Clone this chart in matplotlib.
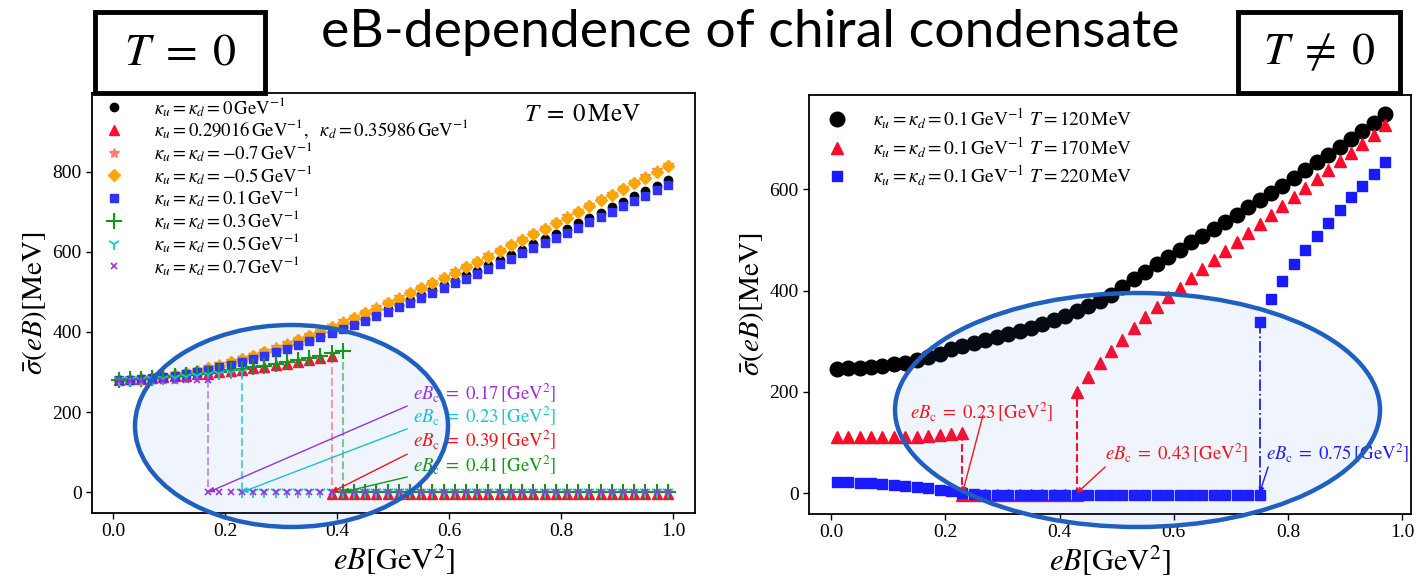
import numpy as np
import matplotlib
matplotlib.use("Agg")
import matplotlib.pyplot as plt
from matplotlib.patches import Ellipse, Rectangle

plt.rcParams["font.family"] = ["Liberation Serif", "DejaVu Serif"]
plt.rcParams["mathtext.fontset"] = "stix"

# ---------------- T = 0 panel ----------------
eb_left = [round(0.01 + 0.02 * i, 2) for i in range(50)]

sig_k0 = [280, 281, 282, 285, 288, 291, 296, 301, 307, 313, 320, 327, 335, 343, 352,
          361, 370, 380, 390, 400, 411, 422, 433, 444, 456, 468, 479, 491, 504, 516,
          528, 541, 553, 566, 579, 592, 605, 618, 631, 644, 657, 671, 684, 697, 711,
          724, 738, 752, 765, 779]
sig_km05 = [280, 281, 283, 285, 288, 293, 297, 303, 309, 316, 324, 332, 340, 349, 358,
            368, 379, 389, 400, 411, 423, 434, 446, 458, 471, 483, 496, 509, 522, 535,
            548, 561, 575, 588, 602, 616, 629, 643, 657, 671, 685, 699, 713, 728, 742,
            756, 771, 785, 800, 814]
sig_km07 = [v + 3 for v in sig_km05]
sig_k01 = [280, 281, 282, 284, 287, 291, 295, 300, 306, 312, 318, 325, 333, 341, 349,
           358, 367, 377, 386, 397, 407, 417, 428, 439, 450, 462, 473, 485, 497, 509,
           521, 533, 545, 558, 570, 583, 596, 608, 621, 634, 647, 660, 673, 686, 699,
           713, 726, 739, 753, 766]

eb_red_up = eb_left[:20]
sig_red_up = [280, 282, 283, 285, 287, 289, 291, 294, 296, 299, 302, 306, 309, 313,
              317, 321, 326, 331, 336, 341]
eb_red_dn = eb_left[19:]
sig_red_dn = [-5] * len(eb_red_dn)

eb_k03_up = eb_left[:21]
sig_k03_up = [281, 282, 283, 285, 287, 290, 292, 295, 298, 301, 304, 308, 312, 316,
              320, 325, 330, 335, 340, 346, 351]
eb_k03_dn = eb_left[20:]
sig_k03_dn = [0] * len(eb_k03_dn)

eb_k05_up = eb_left[:12]
sig_k05_up = [280, 280, 281, 282, 283, 285, 287, 289, 292, 294, 298, 301]
eb_k05_dn = eb_left[11:]
sig_k05_dn = [0] * len(eb_k05_dn)

eb_k07_up = eb_left[:9]
sig_k07_up = [277, 277, 277.5, 278, 278, 278.5, 279, 279.5, 280]
eb_k07_dn = eb_left[8:]
sig_k07_dn = [0] * len(eb_k07_dn)

labels_left = [
    r"$\kappa_u=\kappa_d=0\,\mathrm{GeV}^{-1}$",
    r"$\kappa_u=0.29016\,\mathrm{GeV}^{-1},\ \ \kappa_d=0.35986\,\mathrm{GeV}^{-1}$",
    r"$\kappa_u=\kappa_d=-0.7\,\mathrm{GeV}^{-1}$",
    r"$\kappa_u=\kappa_d=-0.5\,\mathrm{GeV}^{-1}$",
    r"$\kappa_u=\kappa_d=0.1\,\mathrm{GeV}^{-1}$",
    r"$\kappa_u=\kappa_d=0.3\,\mathrm{GeV}^{-1}$",
    r"$\kappa_u=\kappa_d=0.5\,\mathrm{GeV}^{-1}$",
    r"$\kappa_u=\kappa_d=0.7\,\mathrm{GeV}^{-1}$",
]
crit_left = [0.17, 0.23, 0.39, 0.41]

# ---------------- T != 0 panel ----------------
eb_right = [round(0.01 + 0.02 * i, 2) for i in range(49)]
sig_t120 = [246, 247, 248, 250, 252, 255, 258, 262, 268, 275, 284, 290, 296, 302, 308,
            314, 320, 327, 334, 342, 350, 359, 369, 380, 392, 407, 422, 437, 452, 467,
            481, 495, 508, 521, 535, 549, 564, 578, 593, 607, 622, 638, 653, 668, 684,
            699, 715, 731, 748]

eb_t170_lo = eb_right[:12]
sig_t170_lo = [110, 110, 110, 110, 110, 111, 111, 111, 112, 114, 116, 119]
eb_t170_mid = eb_right[11:22]
sig_t170_mid = [-3] * len(eb_t170_mid)
eb_t170_hi = eb_right[21:]
sig_t170_hi = [200, 230, 258, 281, 303, 326, 347, 367, 387, 406, 425, 443, 461, 479,
               496, 514, 532, 550, 567, 585, 603, 620, 638, 655, 672, 690, 708, 726]

eb_t220_lo = eb_right[:38]
sig_t220_lo = [22, 22, 21, 20, 19, 17, 15, 13, 10, 7, 4, 1, -2, -3, -3, -3, -3, -3, -3,
               -3, -3, -3, -3, -3, -3, -3, -3, -3, -3, -3, -3, -3, -3, -3, -3, -3, -3, -3]
eb_t220_hi = eb_right[37:]
sig_t220_hi = [337, 383, 419, 452, 480, 507, 534, 559, 584, 607, 630, 653]

labels_right = [
    r"$\kappa_u=\kappa_d=0.1\,\mathrm{GeV}^{-1}\ T=120\,\mathrm{MeV}$",
    r"$\kappa_u=\kappa_d=0.1\,\mathrm{GeV}^{-1}\ T=170\,\mathrm{MeV}$",
    r"$\kappa_u=\kappa_d=0.1\,\mathrm{GeV}^{-1}\ T=220\,\mathrm{MeV}$",
]
crit_right = [0.23, 0.43, 0.75]

W, H = 1419, 582
fig = plt.figure(figsize=(W / 100, H / 100), dpi=100)


def frac_box(x0, y0, x1, y1):
    return [x0 / W, 1 - y1 / H, (x1 - x0) / W, (y1 - y0) / H]


def note(xc):
    return r"$eB_{\rm c}\;=\;%.2f\,[\mathrm{GeV}^2]$" % xc


axL = fig.add_axes(frac_box(92, 93, 695, 513))
axR = fig.add_axes(frac_box(809, 95, 1411, 514))

# left panel series
purple = "#9b30e0"
cyan = "#17c8d0"
green = "#119a11"
axL.plot(eb_left, sig_k0, "o", color="black", ms=6, label=labels_left[0], zorder=3)
axL.plot(eb_red_up, sig_red_up, "^", color="#ff1030", ms=7, label=labels_left[1], zorder=3)
axL.plot(eb_red_dn, sig_red_dn, "^", color="#ff1030", ms=7, zorder=3)
axL.plot(eb_left, sig_km07, "*", color="#f88070", ms=7, label=labels_left[2], zorder=3)
axL.plot(eb_left, sig_km05, "D", color="#ffa500", ms=6, label=labels_left[3], zorder=3)
axL.plot(eb_left, sig_k01, "s", color="#3030ff", ms=6, label=labels_left[4], zorder=3)
axL.plot(eb_k03_up, sig_k03_up, "+", color=green, ms=11, mew=1.5, label=labels_left[5], zorder=3)
axL.plot(eb_k03_dn, sig_k03_dn, "+", color=green, ms=11, mew=1.5, zorder=3)
axL.plot(eb_k05_up, sig_k05_up, "1", color=cyan, ms=9, mew=1.3, label=labels_left[6], zorder=3)
axL.plot(eb_k05_dn, sig_k05_dn, "1", color=cyan, ms=9, mew=1.3, zorder=3)
axL.plot(eb_k07_up, sig_k07_up, "x", color=purple, ms=5, mew=1.2, label=labels_left[7], zorder=3)
axL.plot(eb_k07_dn, sig_k07_dn, "x", color=purple, ms=5, mew=1.2, zorder=3)

# jumps at the critical fields
axL.plot([crit_left[0]] * 2, [sig_k07_up[-1], 0], "--", color=purple, alpha=0.5, lw=1.5)
axL.plot([crit_left[1]] * 2, [sig_k05_up[-1], 0], "--", color=cyan, alpha=0.7, lw=1.5)
axL.plot([crit_left[2]] * 2, [sig_red_up[-1], 0], "--", color="#ff3030", alpha=0.45, lw=1.5)
axL.plot([crit_left[3]] * 2, [sig_k03_up[-1], 0], "--", color=green, alpha=0.5, lw=1.5)

left_notes = [(crit_left[0], purple, 248, 215),
              (crit_left[1], cyan, 191, 158),
              (crit_left[2], "#ff1010", 131, 95),
              (crit_left[3], green, 68, 38)]
for xc, col, ty, ay in left_notes:
    axL.text(0.535, ty, note(xc), color=col, fontsize=13.5, va="center", ha="left")
    axL.annotate("", xy=(xc, 0), xytext=(0.525, ay),
                 arrowprops=dict(arrowstyle="-|>", color=col, lw=1.0,
                                 mutation_scale=8, shrinkA=0, shrinkB=0))

axL.text(0.813, 0.948, r"$T\;=\;0\,\mathrm{MeV}$", transform=axL.transAxes, fontsize=18,
         ha="center", va="center")
axL.legend(loc="upper left", bbox_to_anchor=(-0.005, 1.02), frameon=False, fontsize=13.5,
           labelspacing=-0.05, handletextpad=1.3, borderaxespad=0.15, handlelength=1.6)
axL.set_xlim(-0.0375, 1.0385)
axL.set_ylim(-52, 996)
axL.set_xticks([0.0, 0.2, 0.4, 0.6, 0.8, 1.0])
axL.set_yticks([0, 200, 400, 600, 800])
axL.set_xlabel(r"$eB[\mathrm{GeV}^2]$", fontsize=22, labelpad=2)
axL.set_ylabel(r"$\bar{\sigma}(eB)[\mathrm{MeV}]$", fontsize=21, labelpad=2)

# right panel series
axR.plot(eb_right, sig_t120, "o", color="black", ms=10.5, label=labels_right[0], zorder=3)
axR.plot(eb_t170_lo, sig_t170_lo, "^", color="#ff0a28", ms=9, label=labels_right[1], zorder=3)
axR.plot(eb_t170_mid, sig_t170_mid, "^", color="#ff0a28", ms=9, zorder=3)
axR.plot(eb_t170_hi, sig_t170_hi, "^", color="#ff0a28", ms=9, zorder=3)
axR.plot(eb_t220_lo, sig_t220_lo, "s", color="#1a1aff", ms=6.5, label=labels_right[2], zorder=3)
axR.plot(eb_t220_hi, sig_t220_hi, "s", color="#1a1aff", ms=6.5, zorder=3)

axR.plot([crit_right[0]] * 2, [sig_t170_lo[-1], sig_t170_mid[0]], "--", color="#ff0a28", lw=1.5)
axR.plot([crit_right[1]] * 2, [sig_t170_mid[-1], sig_t170_hi[0]], "--", color="#ff0a28", lw=1.5)
axR.plot([crit_right[2]] * 2, [sig_t220_hi[0], sig_t220_lo[-1]], "-.", color="#1a1aff", lw=1.3)

right_notes = [(crit_right[0], "#ff1010", 0.138, 162, 0.266, 154),
               (crit_right[1], "#ff1010", 0.480, 81, 0.480, 52),
               (crit_right[2], "#1a1aff", 0.762, 81, 0.765, 52)]
for xc, col, tx, ty, ax_, ay in right_notes:
    axR.text(tx, ty, note(xc), color=col, fontsize=13.5, va="center", ha="left")
    axR.annotate("", xy=(xc, 0), xytext=(ax_, ay),
                 arrowprops=dict(arrowstyle="-|>", color=col, lw=1.0,
                                 mutation_scale=8, shrinkA=0, shrinkB=0))

axR.legend(loc="upper left", bbox_to_anchor=(-0.005, 1.01), frameon=False, fontsize=14,
           labelspacing=0.2, handletextpad=1.05, borderaxespad=0.4, handlelength=1.6)
axR.set_xlim(-0.0385, 1.015)
axR.set_ylim(-41, 786)
axR.set_xticks([0.0, 0.2, 0.4, 0.6, 0.8, 1.0])
axR.set_yticks([0, 200, 400, 600])
axR.set_xlabel(r"$eB[\mathrm{GeV}^2]$", fontsize=22, labelpad=2)
axR.set_ylabel(r"$\bar{\sigma}(eB)[\mathrm{MeV}]$", fontsize=21, labelpad=2)

for ax in (axL, axR):
    ax.tick_params(labelsize=14, direction="out", length=4, width=1)
    for sp in ax.spines.values():
        sp.set_linewidth(1.3)

# highlighted regions around the transitions
for cx, cy, w, h in [(291.5, 426, 313, 202), (1137.5, 410, 485, 234)]:
    fig.patches.append(Ellipse((cx / W, 1 - cy / H), w / W, h / H, transform=fig.transFigure,
                               facecolor=(0.25, 0.45, 0.85, 0.08), edgecolor="none", zorder=5))
    fig.patches.append(Ellipse((cx / W, 1 - cy / H), w / W, h / H, transform=fig.transFigure,
                               facecolor="none", edgecolor="#1f5fbf", lw=3.2, zorder=6))

# title and temperature boxes
fig.text(750 / W, 1 - 32 / H, "eB-dependence of chiral condensate", fontsize=38.5,
         family="Lato", ha="center", va="center")
for x0, x1, txt in [(95, 265, r"$T\;=\;0$"), (1238, 1400, r"$T\;\neq\;0$")]:
    fig.patches.append(Rectangle((x0 / W, 1 - 93 / H), (x1 - x0) / W, 81 / H,
                                 transform=fig.transFigure, facecolor="white",
                                 edgecolor="black", lw=3.5, zorder=7))
    fig.text((x0 + x1) / 2 / W, 1 - 53 / H, txt, fontsize=33, ha="center", va="center",
             zorder=8)

fig.savefig("out.png", dpi=100)
